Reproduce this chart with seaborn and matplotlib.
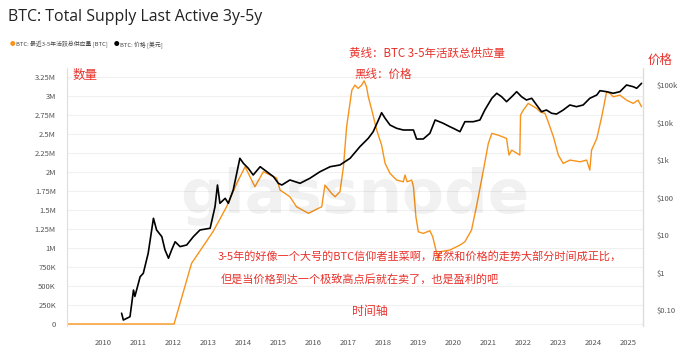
import numpy as np
import pandas as pd
import matplotlib
matplotlib.use("Agg")
import matplotlib.pyplot as plt
import seaborn as sns
from matplotlib.ticker import FixedLocator, FixedFormatter

# ---- data ----
supply_years = [2009.0, 2011.97, 2012.03, 2012.53, 2013.14, 2013.53, 2013.82, 2014.06, 2014.34,
                2014.58, 2014.96, 2015.06, 2015.34, 2015.53, 2015.87, 2016.15, 2016.25, 2016.34,
                2016.53, 2016.63, 2016.77, 2016.87, 2016.96, 2017.11, 2017.2, 2017.29, 2017.39,
                2017.46, 2017.53, 2017.58, 2017.68, 2017.82, 2017.96, 2018.06, 2018.2, 2018.39,
                2018.58, 2018.63, 2018.69, 2018.82, 2018.87, 2018.94, 2019.01, 2019.15, 2019.34,
                2019.42, 2019.49, 2019.58, 2019.63, 2019.91, 2020.2, 2020.34, 2020.53, 2020.67,
                2020.87, 2021.01, 2021.11, 2021.29, 2021.53, 2021.6, 2021.68, 2021.91, 2021.93,
                2022.01, 2022.15, 2022.39, 2022.49, 2022.63, 2022.72, 2022.87, 2023.01, 2023.15,
                2023.34, 2023.63, 2023.82, 2023.91, 2023.96, 2024.11, 2024.25, 2024.39, 2024.49,
                2024.58, 2024.77, 2024.96, 2025.15, 2025.29, 2025.39]
supply_btc = [0, 0, 0, 799e3, 1.214e6, 1.543e6, 1.851e6, 2.070e6, 1.807e6,
              2.004e6, 1.921e6, 1.763e6, 1.675e6, 1.543e6, 1.457e6, 1.522e6, 1.543e6, 1.829e6,
              1.720e6, 1.675e6, 1.741e6, 2.070e6, 2.596e6, 3.079e6, 3.145e6, 3.101e6, 3.145e6,
              3.201e6, 3.122e6, 2.991e6, 2.816e6, 2.553e6, 2.355e6, 2.114e6, 1.983e6, 1.895e6,
              1.872e6, 1.961e6, 1.872e6, 1.895e6, 1.807e6, 1.412e6, 1.214e6, 1.193e6, 1.228e6,
              1.149e6, 1.017e6, 842e3, 951e3, 974e3, 1.039e6, 1.083e6, 1.237e6, 1.543e6,
              2.026e6, 2.378e6, 2.509e6, 2.487e6, 2.443e6, 2.224e6, 2.289e6, 2.224e6, 2.750e6,
              2.816e6, 2.904e6, 2.838e6, 2.793e6, 2.772e6, 2.662e6, 2.465e6, 2.224e6, 2.114e6,
              2.158e6, 2.136e6, 2.158e6, 2.026e6, 2.289e6, 2.443e6, 2.728e6, 3.057e6, 3.035e6,
              2.991e6, 3.013e6, 2.947e6, 2.904e6, 2.947e6, 2.859e6]

price_years = [2010.53, 2010.58, 2010.77, 2010.87, 2010.91, 2011.06, 2011.15, 2011.29, 2011.39,
               2011.44, 2011.53, 2011.68, 2011.77, 2011.87, 2011.96, 2012.06, 2012.2, 2012.39,
               2012.58, 2012.77, 2013.06, 2013.2, 2013.27, 2013.34, 2013.49, 2013.58, 2013.72,
               2013.91, 2014.01, 2014.15, 2014.29, 2014.49, 2014.68, 2014.87, 2015.01, 2015.11,
               2015.34, 2015.63, 2015.91, 2016.2, 2016.49, 2016.77, 2017.06, 2017.34, 2017.58,
               2017.72, 2017.87, 2017.96, 2018.06, 2018.2, 2018.39, 2018.58, 2018.87, 2018.96,
               2019.15, 2019.34, 2019.49, 2019.72, 2019.91, 2020.01, 2020.2, 2020.34, 2020.58,
               2020.77, 2020.91, 2021.11, 2021.25, 2021.39, 2021.53, 2021.68, 2021.82, 2021.96,
               2022.1, 2022.25, 2022.39, 2022.53, 2022.67, 2022.82, 2022.96, 2023.15, 2023.34,
               2023.53, 2023.72, 2023.91, 2024.11, 2024.2, 2024.39, 2024.58, 2024.77, 2024.96,
               2025.15, 2025.25, 2025.39]
price_usd = [0.082, 0.054, 0.066, 0.34, 0.23, 0.77, 0.95, 3.25, 13.6,
             27.9, 13.6, 9.0, 4.0, 2.4, 4.0, 6.6, 4.9, 5.4,
             9.0, 13.6, 15.1, 57, 215, 70, 95, 70, 158,
             1110, 817, 601, 398, 662, 487, 359, 239, 215,
             293, 239, 325, 487, 662, 736, 1110, 2265, 3790,
             5690, 11660, 18250, 12950, 8570, 7000, 6310, 6310, 3630,
             3630, 5150, 11660, 9530, 7730, 7000, 5690, 10500, 10500,
             11660, 21540, 44200, 60100, 48700, 35900, 48700, 66300, 48700,
             39800, 44200, 29300, 19400, 21540, 17600, 16800, 21540, 29300,
             26400, 29300, 44200, 54100, 70500, 66300, 60100, 66300, 100000,
             90100, 81700, 111000]

year_ticks = list(range(2010, 2026))
left_ticks = [0, 250e3, 500e3, 750e3, 1e6, 1.25e6, 1.5e6, 1.75e6, 2e6, 2.25e6, 2.5e6, 2.75e6, 3e6, 3.25e6]
left_labels = ["0", "250K", "500K", "750K", "1M", "1.25M", "1.5M", "1.75M", "2M", "2.25M",
               "2.5M", "2.75M", "3M", "3.25M"]
right_ticks = [0.1, 1, 10, 100, 1e3, 1e4, 1e5]
right_labels = ["$0.10", "$1", "$10", "$100", "$1k", "$10k", "$100k"]

supply_df = pd.DataFrame({"year": supply_years, "supply": supply_btc})
price_df = pd.DataFrame({"year": price_years, "price": price_usd})

# ---- style ----
sns.set_style("white")
plt.rcParams['font.family'] = ['Noto Sans CJK SC', 'DejaVu Sans']

W, H = 680, 355
fig = plt.figure(figsize=(W / 100, H / 100), dpi=100)

def fx(x):
    return x / W

def fy(y):
    return 1 - y / H

ax = fig.add_axes([fx(67), fy(326.3), fx(643) - fx(67), fy(68) - fy(326.3)])
ORANGE = "#f7931a"
RED = "#e8322b"

sns.lineplot(data=supply_df, x="year", y="supply", ax=ax, color=ORANGE, linewidth=1.0,
             estimator=None, sort=False)
ax.set_xlim(2008.97, 2025.43)
ax.set_ylim(-30000, 3.37e6)
ax.yaxis.set_major_locator(FixedLocator(left_ticks))
ax.yaxis.set_major_formatter(FixedFormatter(left_labels))
ax.set_xticks(year_ticks)
ax.set_xticklabels([str(y) for y in year_ticks])
ax.grid(axis="y", color="#f0f0f0", linewidth=0.8)
ax.set_xlabel("")
ax.set_ylabel("")
ax.tick_params(axis="y", labelsize=5.5, labelcolor="#555555", length=0, pad=8)
ax.tick_params(axis="x", labelsize=5.5, labelcolor="#555555", length=3, color="#e0e0e0", pad=6)
for s in ["top", "bottom", "right"]:
    ax.spines[s].set_visible(False)
ax.spines["left"].set_color("#fbd9b5")
ax.spines["left"].set_linewidth(0.8)

ax2 = ax.twinx()
sns.lineplot(data=price_df, x="year", y="price", ax=ax2, color="black", linewidth=1.2,
             estimator=None, sort=False)
ax2.set_yscale("log")
ax2.set_ylim(0.0367, 284000)
ax2.set_xlim(2008.97, 2025.43)
ax2.yaxis.set_major_locator(FixedLocator(right_ticks))
ax2.yaxis.set_major_formatter(FixedFormatter(right_labels))
ax2.yaxis.set_minor_locator(FixedLocator([]))
ax2.set_ylabel("")
ax2.tick_params(axis="y", labelsize=5.5, labelcolor="#555555", length=0, pad=10)
for s in ["top", "bottom", "left"]:
    ax2.spines[s].set_visible(False)
ax2.spines["right"].set_color("#dddddd")
ax2.spines["right"].set_linewidth(1.0)

# watermark
fig.text(fx(355), fy(197), "glassnode", fontsize=44, color="#000000", alpha=0.055,
         ha="center", va="center", family=["DejaVu Sans"], fontweight="bold")

# title and legend
fig.text(fx(8), fy(17), "BTC: Total Supply Last Active 3y-5y", fontsize=11.4, color="#222222",
         ha="left", va="center", family=["Open Sans", "DejaVu Sans"])
fig.text(fx(12), fy(45), "●", fontsize=4, color=ORANGE, ha="center", va="center")
fig.text(fx(16), fy(45), "BTC: 最近3-5年活跃总供应量 [BTC]", fontsize=4.2, color="#444444",
         ha="left", va="center")
fig.text(fx(116), fy(45), "●", fontsize=4, color="black", ha="center", va="center")
fig.text(fx(120), fy(45), "BTC: 价格 [美元]", fontsize=4.2, color="#444444",
         ha="left", va="center")

# red annotations
fig.text(fx(73), fy(75), "数量", fontsize=9, color=RED, ha="left", va="center")
fig.text(fx(349), fy(53), "黄线：BTC 3-5年活跃总供应量", fontsize=8.3, color=RED, ha="left", va="center")
fig.text(fx(354), fy(74), "黑线：价格", fontsize=8.3, color=RED, ha="left", va="center")
fig.text(fx(648), fy(60), "价格", fontsize=9, color=RED, ha="left", va="center")
fig.text(fx(218), fy(256), "3-5年的好像一个大号的BTC信仰者韭菜啊，居然和价格的走势大部分时间成正比，",
         fontsize=8, color=RED, ha="left", va="center")
fig.text(fx(221), fy(279), "但是当价格到达一个极致高点后就在卖了，也是盈利的吧",
         fontsize=8, color=RED, ha="left", va="center")
fig.text(fx(352), fy(312), "时间轴", fontsize=8.6, color=RED, ha="left", va="center")

fig.savefig("out.png", dpi=100)
